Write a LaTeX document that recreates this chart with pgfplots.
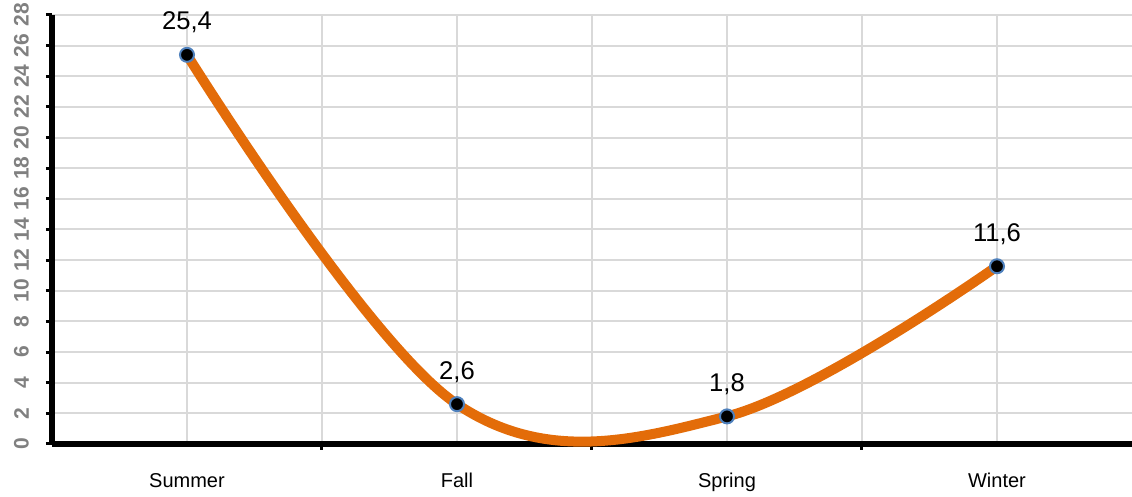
\documentclass[border=0pt]{standalone}
\usepackage{fontspec}
\setmainfont{Liberation Sans}
\usepackage{pgfplots}
\pgfplotsset{compat=1.18}
\definecolor{lineorange}{HTML}{E36C09}
\definecolor{markblue}{HTML}{4F81BD}
\definecolor{gridgray}{HTML}{D9D9D9}
\definecolor{ticktext}{HTML}{808080}
\begin{document}
\begin{tikzpicture}
\begin{axis}[
  scale only axis, width=540pt, height=214.5pt,
  xmin=0.5, xmax=4.5, ymin=0, ymax=28,
  clip=false,
  axis x line=bottom, axis y line=left,
  axis line style={line width=3pt, -},
  xtick={1,2,3,4}, xticklabels={Summer,Fall,Spring,Winter},
  minor xtick={1.5,2.5,3.5},
  xmajorgrids, xminorgrids, ymajorgrids,
  grid style={color=gridgray, line width=1pt},
  minor grid style={color=gridgray, line width=1pt},
  ytick={0,2,...,28},
  tick align=outside,
  major x tick style={draw=none},
  minor x tick style={line width=1.5pt, black},
  minor tick length=3pt,
  major y tick style={line width=1.5pt, black},
  major tick length=3pt,
  /pgf/number format/assume math mode=true,
  yticklabel style={rotate=90, anchor=south, font=\bfseries\fontsize{10.5}{12}\selectfont, text=ticktext, yshift=5pt},
  xticklabel style={font=\fontsize{10}{12}\selectfont, text=black, yshift=-8pt},
]
\addplot[smooth, tension=0.6, color=lineorange, line width=5pt,
  mark=*, mark size=3.5pt,
  mark options={fill=black, draw=markblue, line width=1pt},
  nodes near coords, point meta=explicit symbolic,
  nodes near coords style={font=\fontsize{12.8}{14}\selectfont, text=black, anchor=south, yshift=7pt}]
  table[meta=label] {
x y label
1 25.4 25,4
2 2.6 2,6
3 1.8 1,8
4 11.6 11,6
};
\end{axis}
\pgfresetboundingbox
\path[use as bounding box] (-26pt,-26.5pt) rectangle (540pt,222pt);
\end{tikzpicture}
\end{document}
